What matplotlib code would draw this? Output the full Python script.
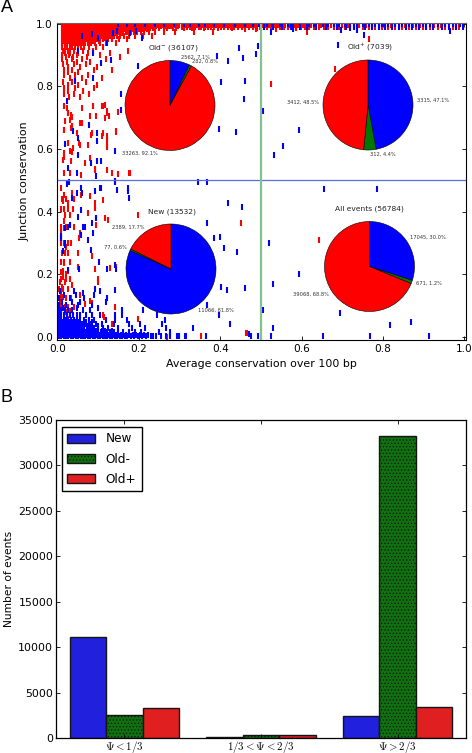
import matplotlib
matplotlib.use("Agg")
import matplotlib.pyplot as plt

W, H = 472, 753

# ---------- panel B / pie values ----------
groups = [r'$\Psi < 1/3$', r'$1/3 < \Psi < 2/3$', r'$\Psi > 2/3$']
new_counts = [11066, 77, 2389]
old_minus_counts = [2562, 282, 33263]
old_plus_counts = [3315, 312, 3412]
all_counts = [17045, 671, 39068]
pie_old_minus = [2562, 282, 33263]
pie_old_plus = [3315, 312, 3412]
pie_new = [11066, 77, 2389]
lab_old_minus = ['2562, 7.1%', '282, 0.8%', '33263, 92.1%']
lab_old_plus = ['3315, 47.1%', '312, 4.4%', '3412, 48.5%']
lab_new = ['11066, 81.8%', '77, 0.6%', '2389, 17.7%']
lab_all = ['17045, 30.0%', '671, 1.2%', '39068, 68.8%']

# ---------- panel A: points, as rows (y, [x...]) ----------
red_rows = [
 (0.996, [.012,.018,.024,.03,.036,.042,.048,.054,.06,.066,.072,.078,.084,.09,.096,.102,.108,.114,.12,.126,.132,.138,.144,.15,.156,.162,.168,.174,.18,.186,.192,.198,.204,.21,.216,.222,.228,.234,.24,.246,.252,.258,.264,.27,.276,.282,.288,.294,.3,.307,.314,.322,.329,.335,.343,.351,.358,.366,.373,.381,.39,.398,.405,.414,.423,.431,.44,.449,.458,.466,.476,.484,.49,.503,.512,.52,.533,.541,.552,.56,.571,.583,.591,.604,.612,.624,.636,.647,.66,.672,.687,.699,.713,.728,.741,.758,.772,.79,.806,.82,.839,.855,.873,.89,.905,.925,.943,.962,.98]),
 (0.994, [.015,.021,.027,.033,.039,.045,.051,.057,.063,.069,.075,.081,.087,.093,.099,.105,.111,.117,.123,.129,.135,.141,.147,.153,.159,.165,.171,.177,.183,.189,.195,.201,.207,.213,.219,.225,.231,.237,.243,.249,.255,.261,.267,.273,.279,.285,.291,.297]),
 (0.991, [.305,.311,.318,.326,.332,.339,.347,.354,.362,.369,.377,.385,.394,.401,.41,.418,.427,.435,.444,.453,.462,.471,.48,.487,.497,.507,.516,.526,.537,.547,.556,.566,.577,.587,.598,.608,.618,.63,.642,.654,.666,.68,.693,.706,.72,.735,.75,.765,.781,.798,.813,.83,.847,.864,.881,.898,.915,.934,.952,.971,.988]),
 (0.985, [.012,.018,.024,.03,.036,.042,.048,.054,.06,.066,.072,.078,.084,.09,.096,.102,.108,.114,.12,.126,.132,.138,.144,.15,.156,.162,.168,.174,.18,.186,.192,.198,.204,.21,.216,.222,.228,.234,.24,.25,.262,.27,.283,.292,.31,.33,.36,.395,.43,.462,.49]),
 (0.982, [.015,.021,.027,.033,.039,.045,.051,.057,.063,.069,.075,.081,.087,.093,.099,.105,.111,.117,.123,.129,.135,.141,.147,.153,.159,.165,.171,.177,.183,.189,.195,.201,.207,.213,.219,.225]),
 (0.974, [.012,.018,.024,.03,.036,.042,.048,.054,.06,.066,.072,.078,.084,.09,.096,.102,.108,.114,.12,.126,.132,.138,.144,.15,.156,.162,.168,.174,.18,.187,.195,.205,.214,.226,.24,.262,.29,.335,.383]),
 (0.970, [.015,.021,.027,.033,.039,.045,.051,.057,.063,.069,.075,.081,.087,.093,.099,.105,.111,.117,.123,.129,.135,.141,.147,.153,.159]),
 (0.962, [.012,.018,.024,.03,.036,.042,.048,.054,.06,.066,.072,.078,.084,.09,.096,.102,.108,.114,.12,.126,.132,.138,.146,.155,.163,.175,.19,.21,.232]),
 (0.956, [.015,.021,.027,.033,.039,.045,.051,.057,.063,.069,.075,.081,.087,.093,.099,.105,.111,.117,.123]),
 (0.950, [.012,.018,.024,.03,.036,.042,.048,.054,.06,.066,.072,.078,.084,.09,.097,.104,.112,.124,.135,.152,.172]),
 (0.944, [.015,.021,.027,.033,.039,.045,.051,.057,.063,.069,.075,.081,.087,.101]),
 (0.938, [.012,.018,.024,.03,.036,.042,.048,.054,.06,.067,.075,.083,.092,.105,.12,.143]),
 (0.926, [.012,.018,.024,.03,.036,.043,.05,.058,.066,.078,.095,.112]),
 (0.914, [.014,.025,.04,.062,.088,.174]),
 (0.908, [.018,.032,.05,.075,.13]),
 (0.900, [.012,.028,.048,.105]),
 (0.893, [.02,.038,.072,.154]),
 (0.886, [.011,.035,.06,.12]),
 (0.878, [.023,.047,.08]),
 (0.870, [.014,.04,.07]),
 (0.861, [.026,.055,.098]),
 (0.853, [.016,.035,.091,.133]),
 (0.845, [.027,.05]),
 (0.835, [.017,.043,.075]),
 (0.826, [.03,.06,.11]),
 (0.815, [.014,.036,.07]),
 (0.805, [.027,.05,.098]),
 (0.794, [.017,.043,.09]),
 (0.784, [.027,.062]),
 (0.775, [.015,.04,.078]),
 (0.765, [.028,.056]),
 (0.44, [.012,.021,.04]),
 (0.41, [.008,.016,.026,.038]),
 (0.35, [.01,.022,.04]),
 (0.30, [.008,.016,.027]),
 (0.27, [.012,.026,.05]),
 (0.24, [.008,.016,.03]),
 (0.21, [.014,.026]),
 (0.185, [.008,.02,.032]),
 (0.155, [.005,.014,.027]),
 (0.125, [.008,.02,.034]),
 (0.095, [.012,.026,.04]),
 (0.07, [.005,.032]),
]
red_x = [.016,.027,.035,.088,.113,.121,.015,.033,.06,.084,.113,.123,.144,.027,.015,.035,.056,.08,.093,.133,.177,.15,.121,
         .061,.088,.117,.109,.08,.094,.117,.127,.15,.123,.027,.023,.033,.018,.031,.055,.047,.017,.037,.027,.053,.082,.121,.109,.121,.039,.017,.031,.033,.014,.069,.092,.123,.178,.15,.059,.031,.017,.076,.143,
         .01,.017,.035,.058,.08,.107,.113,.092,.092,.076,.014,.027,.018,.031,.017,.009,.017,.031,.117,.125,.096,.055,.033,.01,.022,.084,.018,.199,.053,
         .017,.009,.014,.006,.012,.009,.014,.006,.018,.01,.022,.031,.017,.006,.027,.014,.1,.099,.08,.084,.068,.113,.115,.197,.118,.1,.055,.035,.05,.092,.13,.144,.018,.022,.141,.043,.133,
         .461,.488,.537,.587,.614,.766,.682,.524,.45,.643,.463,.354,.465,.27]
red_y = [.736,.715,.704,.736,.736,.715,.661,.667,.683,.651,.651,.629,.656,.619,.576,.592,.613,.571,.534,.523,.523,.52,.608,
         .732,.737,.742,.737,.705,.705,.7,.705,.719,.721,.716,.732,.71,.689,.694,.684,.651,.662,.673,.62,.62,.644,.641,.641,.609,.604,.588,.593,.561,.566,.556,.535,.532,.524,.521,.519,.524,.524,.614,.657,
         .476,.455,.46,.455,.449,.476,.439,.428,.412,.396,.433,.428,.391,.391,.37,.332,.348,.359,.38,.375,.359,.332,.302,.316,.289,.258,.268,.391,.316,
         .237,.208,.192,.176,.16,.144,.128,.107,.096,.08,.08,.085,.064,.053,.059,.043,.186,.176,.117,.11,.107,.071,.064,.059,.016,.021,.133,.165,.224,.216,.22,.224,.176,.202,.096,.021,.043,
         .983,.983,.983,.986,.973,.952,.856,.807,.365,.31,.012,.003,.012,.0]
blue_rows = [
 (0.998, [.148,.17,.19,.215,.24,.263,.287,.31,.326,.347,.362,.385,.41,.436,.46,.48,.495,.516,.528,.546,.566,.578,.597,.617,.63,.652,.666,.68,.693,.706,.72,.735,.75,.765,.78,.797,.813,.83,.847,.864,.882,.898,.915,.934,.952,.971,.99]),
 (0.990, [.508,.53,.552,.574,.595,.614,.636,.659,.686,.71,.728,.757,.773,.79,.805,.822,.84,.856,.872,.889,.906,.924,.944,.961,.98,.996]),
 (0.003, [.003,.009,.015,.021,.027,.033,.039,.045,.051,.057,.063,.069,.075,.081,.087,.093,.099,.105,.111,.117,.123,.129,.135,.141,.147,.153,.159,.165,.172,.18,.189,.197,.207,.217,.229,.235,.242,.254,.268,.276,.293,.3,.313,.317,.365,.475,.493,.524,.653,.769,.914]),
 (0.006, [.006,.012,.018,.024,.03,.036,.042,.048,.054,.06,.066,.072,.078,.084,.09,.096,.102,.108,.114,.12,.126,.132,.138,.144,.15,.156,.162,.168,.176,.185,.193,.202,.212,.222]),
 (0.015, [.003,.009,.015,.021,.027,.033,.039,.045,.051,.057,.063,.069,.075,.081,.087,.093,.099,.106,.114,.122,.13,.14,.15,.16,.175,.19,.205,.25,.276]),
 (0.020, [.006,.012,.018,.024,.03,.036,.042,.048,.054,.06,.066,.072,.078,.084,.09,.096,.11,.118,.135]),
 (0.028, [.003,.009,.015,.021,.027,.033,.039,.045,.051,.058,.065,.072,.08,.09,.1,.113,.125,.15,.183,.215,.268,.333,.529]),
 (0.036, [.006,.012,.018,.024,.03,.036,.042,.048,.055,.063,.075,.086,.1]),
 (0.042, [.003,.009,.015,.021,.027,.033,.039,.045,.052,.06,.068,.08,.095,.11,.138,.175,.203,.256,.423]),
 (0.050, [.006,.012,.018,.024,.03,.037,.044,.052,.07,.084]),
 (0.056, [.003,.009,.015,.021,.027,.033,.04,.048,.056,.065,.078,.09,.12,.142,.17,.265]),
 (0.070, [.003,.009,.016,.023,.03,.038,.047,.056,.07,.085,.105,.142,.158,.244,.397]),
 (0.086, [.003,.01,.018,.027,.037,.062,.08,.158,.211,.504]),
 (0.092, [.014,.048,.1]),
 (0.104, [.003,.022,.05,.084,.367]),
 (0.113, [.012,.035,.056,.12]),
 (0.124, [.004,.03,.065,.121]),
 (0.133, [.016,.045,.09]),
 (0.146, [.006,.04,.105]),
]
blue_x = [.146,.137,.1,.084,.123,.088,.108,.131,.05,.043,.088,.156,.199,.207,.194,.178,.06,
          .024,.156,.077,.098,.097,.039,.051,.018,.051,.082,.098,.108,.025,.047,.094,.141,
          .028,.023,.058,.047,.092,.108,.146,.173,.175,.059,.051,.094,.084,.068,.018,.031,.01,.058,.076,.018,.082,.014,.141,
          .009,.019,.027,.035,.06,.095,.064,.088,.142,.144,.101,.121,.052,.027,.142,.093,.064,.367,.386,.4,.41,.441,.419,.401,.416,
          .493,.488,.457,.461,.458,.504,.593,.555,.532,.524,.579,.697,.754,.964,.69,.719,.735,.655,.786,
          .454,.52,.593,.53,.461,.694,.817,.87,.47,
          .391,.418,.447,.402,.396,.439,.346,.367,.142,.105,.173]
blue_y = [.977,.971,.955,.966,.939,.907,.875,.883,.913,.817,.828,.776,.865,.955,.977,.971,.961,
          .755,.726,.678,.652,.625,.657,.636,.615,.58,.556,.563,.561,.54,.524,.513,.593,
          .495,.489,.476,.46,.467,.476,.47,.465,.444,.407,.382,.38,.364,.35,.348,.359,.322,.327,.311,.295,.279,.274,.497,
          .315,.3,.352,.443,.459,.379,.352,.331,.23,.219,.241,.219,.219,.214,.15,.155,.14,.363,.315,.32,.283,.273,.427,.161,.152,
          .93,.904,.89,.816,.761,.722,.661,.61,.581,.975,.983,.981,.965,.977,.933,.986,.979,.473,.473,
          .416,.299,.2,.171,.158,.078,.038,.048,.01,
          .896,.882,.922,.813,.663,.656,.496,.496,.496,.475,.475]

# ---------- figure ----------
plt.rcParams['font.family'] = 'DejaVu Sans'
plt.rcParams['mathtext.fontset'] = 'cm'
plt.rcParams['hatch.linewidth'] = 0.5
fig = plt.figure(figsize=(W / 100, H / 100), dpi=100)


def px_axes(l, t, r, b, **kw):
    return fig.add_axes([l / W, 1 - b / H, (r - l) / W, (b - t) / H], **kw)


ax = px_axes(57, 22.5, 466, 340)
mark = dict(linestyle='none', marker='|', markersize=3.9, markeredgewidth=1.5)
rx, ry = list(red_x), list(red_y)
for y, xs in red_rows:
    rx += xs
    ry += [y] * len(xs)
bx, by = list(blue_x), list(blue_y)
for y, xs in blue_rows:
    bx += xs
    by += [y] * len(xs)
ax.plot(rx, ry, color='#ff0000', **mark)
ax.plot(bx, by, color='#0000ff', **mark)
ax.axhline(0.5, color='#5a6ee0', lw=0.9)
ax.axvline(0.5, color='#86c08a', lw=1.6)
ax.set_xlim(-0.001, 1.004)
ax.set_ylim(-0.009, 1.004)
ax.set_xticks([0, .2, .4, .6, .8, 1.0])
ax.set_yticks([0, .2, .4, .6, .8, 1.0])
ax.tick_params(direction='in', top=True, right=True, labelsize=7.6, length=3, width=0.6, pad=3)
ax.set_xlabel('Average conservation over 100 bp', fontsize=7.9, labelpad=3.5)
ax.set_ylabel('Junction conservation', fontsize=7.9, labelpad=4.5)
for s in ax.spines.values():
    s.set_linewidth(0.8)
ax.spines['top'].set_color('#666666')

PIE_R = 45
pie_colors = ['#0000ff', '#007700', '#ff0000']


def draw_pie(cx, cy, values, labels, title, tdx):
    half = PIE_R * 1.25
    pa = px_axes(cx - half, cy - half, cx + half, cy + half)
    pa.pie(values, labels=labels, colors=pie_colors, startangle=90, counterclock=False,
           wedgeprops=dict(edgecolor='black', linewidth=0.4),
           textprops=dict(fontsize=3.7, color='#333333'))
    pa.set_xlim(-1.25, 1.25)
    pa.set_ylim(-1.25, 1.25)
    pa.patch.set_alpha(0)
    pa.text(tdx, 1.28, title, ha='center', va='center', fontsize=5.4, color='#222222',
            math_fontfamily='dejavusans')


draw_pie(170, 105.5, pie_old_minus, lab_old_minus, 'Old$^{-}$ (36107)', 0.08)
draw_pie(368, 105, pie_old_plus, lab_old_plus, 'Old$^{+}$ (7039)', 0.05)
draw_pie(171, 269, pie_new, lab_new, 'New (13532)', 0.02)
draw_pie(369.5, 266.5, all_counts, lab_all, 'All events (56784)', 0.0)

fig.text(0.5 / W, 1 - 8 / H, 'A', fontsize=13, family='Liberation Sans', va='center')
fig.text(0.5 / W, 1 - 398 / H, 'B', fontsize=13, family='Liberation Sans', va='center')

# ---------- panel B ----------
bx_ax = px_axes(56, 420, 466, 738)
w = 0.267
pos = range(len(groups))
edge = dict(edgecolor='#151515', linewidth=1.0)
bars_new = bx_ax.bar([p - w for p in pos], new_counts, w, color='#2020dd', label='New', **edge)
bars_om = bx_ax.bar(list(pos), old_minus_counts, w, color='#0f700f', hatch='.....', label='Old-', **edge)
bars_op = bx_ax.bar([p + w for p in pos], old_plus_counts, w, color='#e02020', label='Old+', **edge)
bx_ax.set_xlim(-0.5, 2.5)
bx_ax.set_ylim(0, 35000)
bx_ax.set_xticks(list(pos))
bx_ax.set_xticklabels(groups, fontsize=6.8)
bx_ax.set_yticks(range(0, 35001, 5000))
bx_ax.tick_params(direction='in', top=True, right=True, labelsize=7.9, length=3, width=0.6, pad=2)
bx_ax.tick_params(axis='x', pad=0.5)
bx_ax.set_ylabel('Number of events', fontsize=7.7, labelpad=3)
for s in bx_ax.spines.values():
    s.set_linewidth(0.9)
leg = bx_ax.legend(loc='upper left', bbox_to_anchor=(0.014, 0.978), borderaxespad=0, fontsize=8.7,
                   fancybox=False, framealpha=1, edgecolor='black', handlelength=2.3, handleheight=0.8,
                   labelspacing=0.6, handletextpad=0.9, borderpad=0.45)
leg.get_frame().set_linewidth(1.0)

fig.savefig('out.png', dpi=100)
